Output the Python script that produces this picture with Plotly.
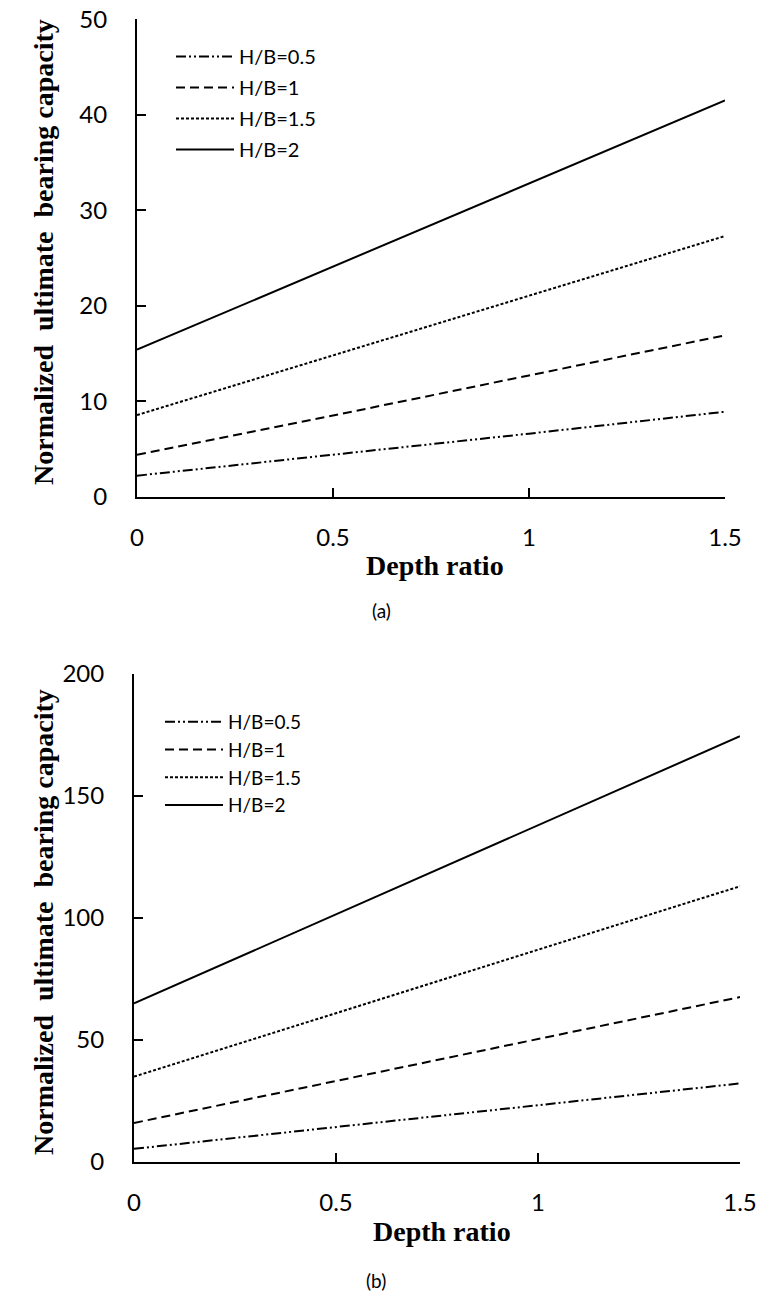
import plotly.graph_objects as go

# ---- data ----
depth = [0, 0.5, 1, 1.5]
series_names = ["H/B=0.5", "H/B=1", "H/B=1.5", "H/B=2"]

a_hb05 = [2.2, 4.4, 6.6, 8.9]
a_hb1 = [4.4, 8.5, 12.7, 16.9]
a_hb15 = [8.55, 14.8, 21.0, 27.3]
a_hb2 = [15.4, 24.1, 32.8, 41.5]

b_hb05 = [5.4, 14.3, 23.2, 32.2]
b_hb1 = [16.0, 33.2, 50.4, 67.6]
b_hb15 = [35.0, 61.0, 87.0, 113.0]
b_hb2 = [65.0, 101.5, 138.0, 174.5]

x_ticks = [0, 0.5, 1, 1.5]
x_ticklabels = ["0", "0.5", "1", "1.5"]
ya_ticks = [0, 10, 20, 30, 40, 50]
yb_ticks = [0, 50, 100, 150, 200]

dashes = ["10px,3px,2px,3px,2px,3px", "9px,5px", "3px,2px", "solid"]

W, H = 764, 1294

TICK_FONT = dict(family="Lato, Open Sans, sans-serif", size=24, color="#000")
LEG_FONT_A = dict(family="Lato, Open Sans, sans-serif", size=20, color="#000")
LEG_FONT_B = dict(family="Lato, Open Sans, sans-serif", size=19, color="#000")
TITLE_FONT = dict(family="Liberation Serif, Times New Roman, serif", size=28, color="#000")
CAP_FONT = dict(family="Lato, Open Sans, sans-serif", size=19, color="#000")

fig = go.Figure()

for i, (name, ys) in enumerate(zip(series_names, [a_hb05, a_hb1, a_hb15, a_hb2])):
    fig.add_trace(go.Scatter(x=depth, y=ys, mode="lines", name=name,
                             line=dict(color="#000", width=2, dash=dashes[i]),
                             xaxis="x", yaxis="y", legend="legend",
                             legendgroup="a" + str(i)))
for i, (name, ys) in enumerate(zip(series_names, [b_hb05, b_hb1, b_hb15, b_hb2])):
    fig.add_trace(go.Scatter(x=depth, y=ys, mode="lines", name=name,
                             line=dict(color="#000", width=2, dash=dashes[i]),
                             xaxis="x2", yaxis="y2", legend="legend2",
                             legendgroup="b" + str(i)))

def px_x(p):
    return p / W

def px_y(p):
    return 1 - p / H

axis_common = dict(showline=True, linecolor="#000", linewidth=2, ticks="inside",
                   ticklen=9, tickwidth=2, tickcolor="#000", showgrid=False,
                   zeroline=False, tickfont=TICK_FONT, fixedrange=True,
                   automargin=False, ticklabeloverflow="allow")

fig.update_layout(
    width=W, height=H,
    margin=dict(l=0, r=0, t=0, b=0, autoexpand=False),
    paper_bgcolor="white", plot_bgcolor="white",
    xaxis=dict(domain=[px_x(137), px_x(725)], range=[0, 1.5], anchor="y",
               tickvals=x_ticks, ticktext=x_ticklabels, ticklabelstandoff=18,
               **axis_common),
    yaxis=dict(domain=[px_y(496.7), px_y(19.3)], range=[0, 50], anchor="x",
               tickvals=ya_ticks, ticklabelstandoff=23, **axis_common),
    xaxis2=dict(domain=[px_x(134), px_x(740)], range=[0, 1.5], anchor="y2",
                tickvals=x_ticks, ticktext=x_ticklabels, ticklabelstandoff=18,
                **axis_common),
    yaxis2=dict(domain=[px_y(1162), px_y(674)], range=[0, 200], anchor="x2",
                tickvals=yb_ticks, ticklabelstandoff=23, **axis_common),
    legend=dict(x=px_x(171), y=px_y(37), xanchor="left", yanchor="top",
                bgcolor="rgba(0,0,0,0)", font=LEG_FONT_A, tracegroupgap=2,
                itemwidth=58, itemclick=False, itemdoubleclick=False),
    legend2=dict(x=px_x(160), y=px_y(703), xanchor="left", yanchor="top",
                 bgcolor="rgba(0,0,0,0)", font=LEG_FONT_B, tracegroupgap=0,
                 itemwidth=58, itemclick=False, itemdoubleclick=False),
    showlegend=True,
)

ytitle = "Normalized\u00a0 ultimate\u00a0 bearing capacity"
annotations = [
    dict(text="<b>Depth ratio</b>", x=px_x(435), y=px_y(566), font=TITLE_FONT),
    dict(text="<b>Depth ratio</b>", x=px_x(442), y=px_y(1231), font=TITLE_FONT),
    dict(text="<b>" + ytitle + "</b>", x=px_x(44), y=px_y(252), textangle=-90, font=TITLE_FONT),
    dict(text="<b>" + ytitle + "</b>", x=px_x(43), y=px_y(922), textangle=-90, font=TITLE_FONT),
    dict(text="(a)", x=px_x(381), y=px_y(611), font=CAP_FONT),
    dict(text="(b)", x=px_x(376), y=px_y(1280), font=CAP_FONT),
]
for a in annotations:
    a.update(xref="paper", yref="paper", showarrow=False, xanchor="center", yanchor="middle")
fig.update_layout(annotations=annotations)

# remove the browser's default 8px body margin so the figure fills the page exactly
fig.write_html("out.html", config={"displayModeBar": False},
               post_script="document.body.style.margin='0';")
